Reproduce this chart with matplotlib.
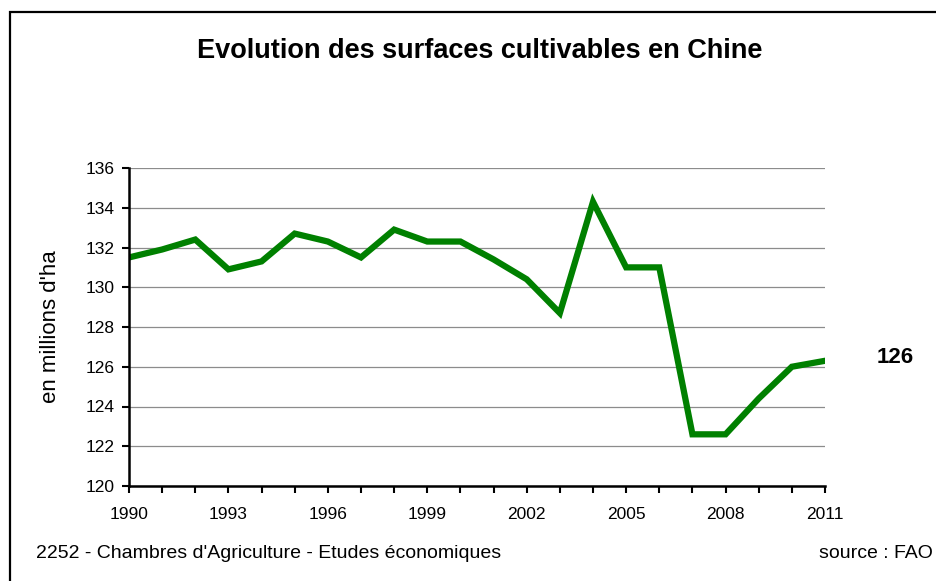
import matplotlib.pyplot as plt
from matplotlib.patches import Rectangle

# Surfaces cultivables en Chine (millions d'ha), source FAO
years = list(range(1990, 2012))
surface = [131.5, 131.9, 132.4, 130.9, 131.3, 132.7, 132.3, 131.5, 132.9, 132.3,
           132.3, 131.4, 130.4, 128.7, 134.3, 131.0, 131.0, 122.6, 122.6, 124.4,
           126.0, 126.3]
year_labels = list(range(1990, 2012, 3))
y_ticks = list(range(120, 137, 2))

plt.rcParams['font.family'] = ['Liberation Sans', 'DejaVu Sans']

fig = plt.figure(figsize=(9.36, 5.81), dpi=100)
W, H = 936, 581
ax = fig.add_axes([129 / W, 1 - 486 / H, (825 - 129) / W, (486 - 168) / H])

ax.plot(years, surface, color='#008000', linewidth=4.5, solid_joinstyle='miter')

ax.set_xlim(1990, 2011)
ax.set_ylim(120, 136)
ax.set_yticks(y_ticks)
ax.set_xticks(years)
ax.set_xticklabels([str(y) if y in year_labels else '' for y in years])
ax.yaxis.grid(True, color='#8c8c8c', linewidth=0.9)
ax.set_axisbelow(True)
for s in ['top', 'right']:
    ax.spines[s].set_visible(False)
for s in ['left', 'bottom']:
    ax.spines[s].set_linewidth(1.8)
ax.tick_params(axis='both', direction='out', length=5, width=1.5, labelsize=12.5)
ax.tick_params(axis='x', pad=10)
ax.tick_params(axis='y', pad=5)
ax.set_ylabel("en millions d'ha", fontsize=16, labelpad=18)

ax.annotate('126', xy=(years[-1], surface[-1]), xytext=(895, 581 - 357.5),
            xycoords='data', textcoords='figure pixels',
            fontsize=16, fontweight='bold', ha='center', va='center')

fig.text(480 / W, 1 - 51 / H, 'Evolution des surfaces cultivables en Chine',
         fontsize=19.5, fontweight='bold', ha='center', va='center')
fig.text(36 / W, 1 - 554 / H, "2252 - Chambres d'Agriculture - Etudes économiques",
         fontsize=14, ha='left', va='center')
fig.text(933 / W, 1 - 553 / H, 'source : FAO', fontsize=14, ha='right', va='center')

fig.patches.append(Rectangle((9.5 / W, -0.02), 1.02, 1 - 12 / H + 0.02, transform=fig.transFigure,
                             fill=False, edgecolor='black', linewidth=1.6))

fig.savefig('out.png', dpi=100)
